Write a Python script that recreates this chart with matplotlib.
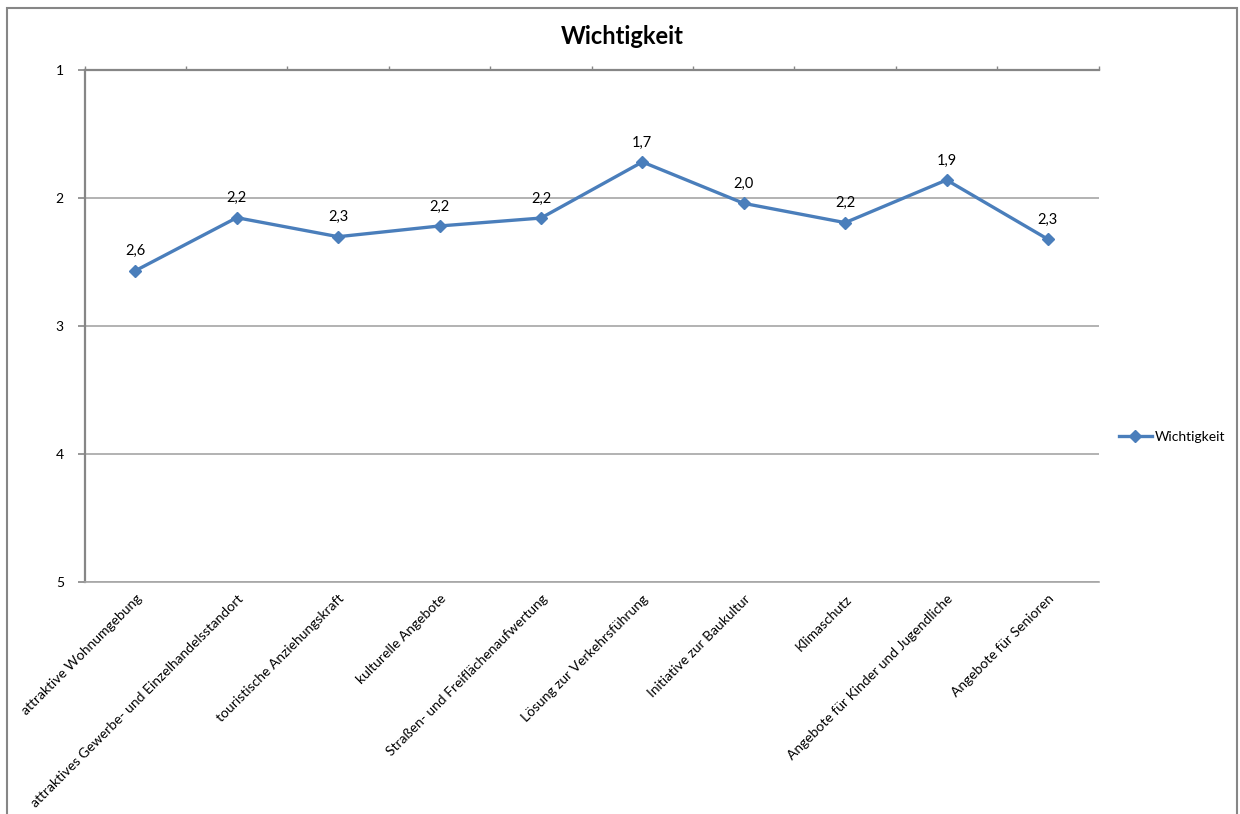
import matplotlib.pyplot as plt
import matplotlib.patches as mpatches
import numpy as np

categories = ["attraktive Wohnumgebung",
              "attraktives Gewerbe- und Einzelhandelsstandort",
              "touristische Anziehungskraft",
              "kulturelle Angebote",
              "Straßen- und Freiflächenaufwertung",
              "Lösung zur Verkehrsführung",
              "Initiative zur Baukultur",
              "Klimaschutz",
              "Angebote für Kinder und Jugendliche",
              "Angebote für Senioren"]
wichtigkeit = [2.567, 2.152, 2.301, 2.217, 2.155, 1.716, 2.040, 2.191, 1.857, 2.321]
y_ticks = [1, 2, 3, 4, 5]

plt.rcParams['font.family'] = ['Lato', 'DejaVu Sans']

line_col = '#4A7EBB'
axis_col = '#868686'
grid_col = '#A6A6A6'

fig = plt.figure(figsize=(12.4, 8.14), dpi=100)
ax = fig.add_axes([0.0683, 0.2856, 0.8177, 0.6278])

# outer chart border
fig.patches.append(mpatches.Rectangle((7 / 1240, -0.02), 1230 / 1240, 1 - 8 / 814 + 0.02,
                                      transform=fig.transFigure, fill=False,
                                      edgecolor=axis_col, linewidth=1.5))

x = np.arange(len(categories))
ax.plot(x, wichtigkeit, color=line_col, linewidth=2.4, marker='D', markersize=6.5,
        label='Wichtigkeit', zorder=3)
for xi, v in zip(x, wichtigkeit):
    ax.annotate(f"{v:.1f}".replace('.', ','), (xi, v), xytext=(0, 14),
                textcoords='offset points', ha='center', va='center', fontsize=10.5)

ax.set_xlim(-0.5, len(categories) - 0.5)
ax.set_ylim(5, 1)
ax.set_yticks(y_ticks)
ax.set_yticklabels([str(t) for t in y_ticks], fontsize=10)
ax.yaxis.grid(True, color=grid_col, linewidth=1.2)
ax.set_axisbelow(True)

ax.set_xticks(x)
ax.set_xticklabels(categories, rotation=45, ha='right', va='top',
                   rotation_mode='anchor', fontsize=10)
ax.set_xticks(np.arange(-0.5, len(categories)), minor=True)
ax.tick_params(axis='x', which='major', length=0, pad=8)
ax.tick_params(axis='x', which='minor', top=True, bottom=False, length=3,
               color=axis_col, width=1)
ax.tick_params(axis='y', length=5, color=axis_col, width=1.2, pad=10)

ax.spines['right'].set_visible(False)
ax.spines['bottom'].set_color(grid_col)
ax.spines['bottom'].set_linewidth(1.2)
for s in ['left', 'top']:
    ax.spines[s].set_color(axis_col)
    ax.spines[s].set_linewidth(1.6)

fig.text(0.5016, 0.955, 'Wichtigkeit', ha='center', va='center', fontsize=17, fontweight='bold')

fig.legend(loc='center left', bbox_to_anchor=(0.892, 0.463), frameon=False,
           fontsize=10, handlelength=2.4, handletextpad=0.2)

plt.savefig('out.png', dpi=100)
